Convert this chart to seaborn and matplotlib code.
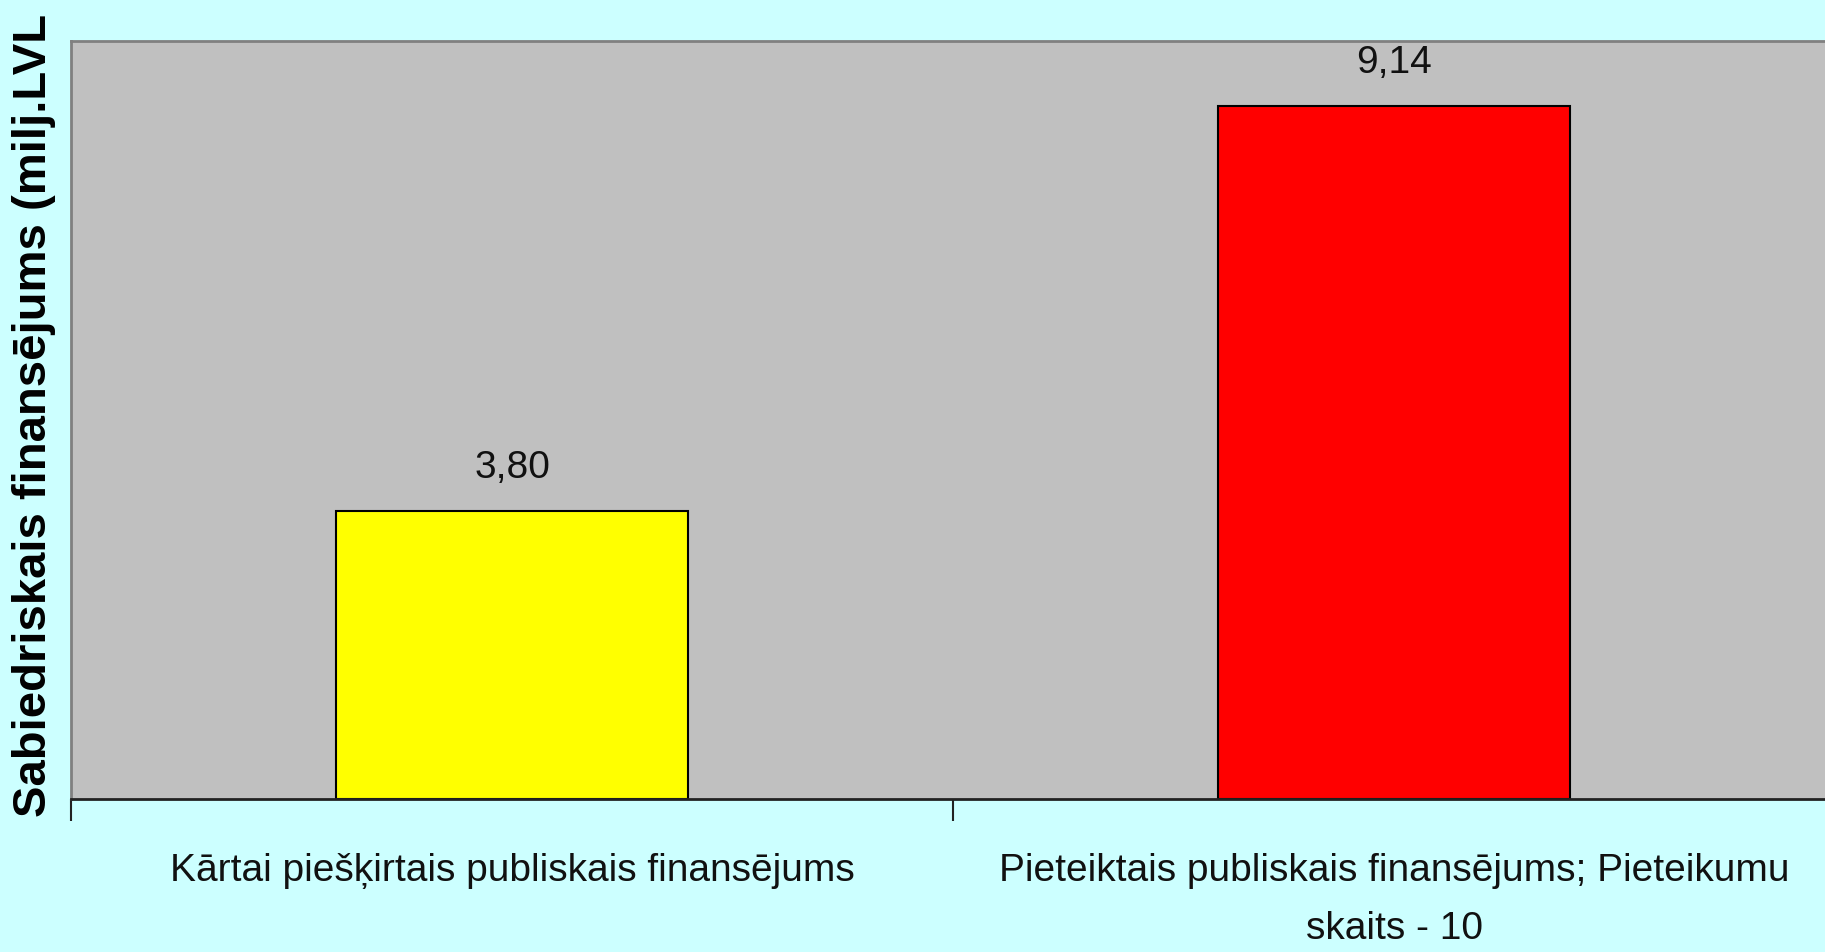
import matplotlib
matplotlib.use("Agg")
import matplotlib.pyplot as plt
import seaborn as sns
import pandas as pd
from matplotlib.ticker import FixedLocator

categories = ["Kārtai piešķirtais publiskais finansējums",
              "Pieteiktais publiskais finansējums; Pieteikumu skaits - 10"]
tick_labels = ["Kārtai piešķirtais publiskais finansējums",
               "Pieteiktais publiskais finansējums; Pieteikumu\nskaits - 10"]
values = [3.80, 9.14]
colors = ["#FFFF00", "#FF0000"]
ylabel = "Sabiedriskais finansējums (milj.LVL"

sns.set_theme(style="white")
plt.rcParams["font.family"] = ["Liberation Sans", "DejaVu Sans"]

df = pd.DataFrame({"cat": categories, "val": values})

fig = plt.figure(figsize=(18.25, 9.53), dpi=100)
fig.patch.set_facecolor("#CCFFFF")
ax = fig.add_axes([71/1825, (953-800)/953, 1764/1825, 758/953])
ax.set_facecolor("#C0C0C0")

sns.barplot(data=df, x="cat", y="val", hue="cat", palette=colors, width=0.4,
            edgecolor="black", linewidth=1.5, legend=False, ax=ax, saturation=1)

ax.set_ylim(0, 10)
ax.set_xlim(-0.5, 1.5)
ax.set_yticks([])
ax.set_xticks(range(len(categories)))
ax.set_xticklabels(tick_labels, fontsize=28, color="#111111", linespacing=1.8)
ax.xaxis.set_minor_locator(FixedLocator([-0.5, 0.5, 1.5]))
ax.tick_params(axis="x", which="major", length=0, pad=38)
ax.tick_params(axis="x", which="minor", length=16, width=1.5, color="#222222", direction="out", bottom=True)
ax.set_xlabel("")
ax.set_ylabel("")

for c in ax.containers:
    ax.bar_label(c, labels=[f"{v:.2f}".replace(".", ",") for v in c.datavalues],
                 padding=19, fontsize=28, color="#111111")

for s in ["top", "left"]:
    ax.spines[s].set_color("#808080")
    ax.spines[s].set_linewidth(2)
ax.spines["right"].set_visible(False)
ax.spines["bottom"].set_color("#222222")
ax.spines["bottom"].set_linewidth(2)

fig.text(34/1825, (953-415)/953, ylabel, rotation=90, ha="center", va="center",
         fontsize=34, fontweight="bold", color="black")

fig.savefig("out.png", dpi=100, facecolor=fig.get_facecolor())
